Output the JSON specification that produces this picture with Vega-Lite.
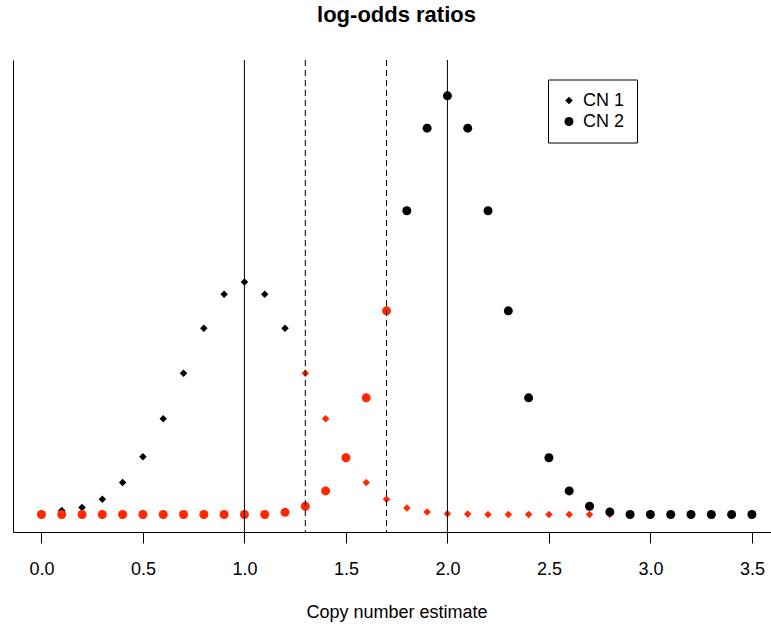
{
  "$schema": "https://vega.github.io/schema/vega-lite/v6.json",
  "width": 758,
  "height": 472,
  "autosize": {"type": "none"},
  "padding": {"left": 13, "top": 60, "right": 0, "bottom": 98},
  "background": "white",
  "config": {"view": {"stroke": null}, "font": "Liberation Sans"},
  "title": {
    "text": "log-odds ratios",
    "font": "Liberation Sans",
    "fontSize": 22,
    "fontWeight": "bold",
    "color": "black",
    "anchor": "middle",
    "frame": "group",
    "baseline": "alphabetic",
    "offset": 16,
    "dx": 4.5
  },
  "layer": [
    {
      "data": {
        "values": [
          {"estimate": 0.0, "copies": "CN 1", "value": 0.002},
          {"estimate": 0.1, "copies": "CN 1", "value": 0.009},
          {"estimate": 0.2, "copies": "CN 1", "value": 0.016},
          {"estimate": 0.3, "copies": "CN 1", "value": 0.035},
          {"estimate": 0.4, "copies": "CN 1", "value": 0.073},
          {"estimate": 0.5, "copies": "CN 1", "value": 0.132},
          {"estimate": 0.6, "copies": "CN 1", "value": 0.219},
          {"estimate": 0.7, "copies": "CN 1", "value": 0.323},
          {"estimate": 0.8, "copies": "CN 1", "value": 0.426},
          {"estimate": 0.9, "copies": "CN 1", "value": 0.504},
          {"estimate": 1.0, "copies": "CN 1", "value": 0.532},
          {"estimate": 1.1, "copies": "CN 1", "value": 0.504},
          {"estimate": 1.2, "copies": "CN 1", "value": 0.426},
          {"estimate": 1.3, "copies": "CN 1", "value": 0.323},
          {"estimate": 1.4, "copies": "CN 1", "value": 0.219},
          {"estimate": 1.5, "copies": "CN 1", "value": 0.132},
          {"estimate": 1.6, "copies": "CN 1", "value": 0.073},
          {"estimate": 1.7, "copies": "CN 1", "value": 0.035},
          {"estimate": 1.8, "copies": "CN 1", "value": 0.015},
          {"estimate": 1.9, "copies": "CN 1", "value": 0.006},
          {"estimate": 2.0, "copies": "CN 1", "value": 0.002},
          {"estimate": 2.1, "copies": "CN 1", "value": 0.001},
          {"estimate": 2.2, "copies": "CN 1", "value": 0.0},
          {"estimate": 2.3, "copies": "CN 1", "value": 0.0},
          {"estimate": 2.4, "copies": "CN 1", "value": 0.0},
          {"estimate": 2.5, "copies": "CN 1", "value": 0.0},
          {"estimate": 2.6, "copies": "CN 1", "value": 0.0},
          {"estimate": 2.7, "copies": "CN 1", "value": 0.0},
          {"estimate": 2.8, "copies": "CN 1", "value": 0.0},
          {"estimate": 2.9, "copies": "CN 1", "value": 0.0},
          {"estimate": 3.0, "copies": "CN 1", "value": 0.0},
          {"estimate": 3.1, "copies": "CN 1", "value": 0.0},
          {"estimate": 3.2, "copies": "CN 1", "value": 0.0},
          {"estimate": 3.3, "copies": "CN 1", "value": 0.0},
          {"estimate": 3.4, "copies": "CN 1", "value": 0.0},
          {"estimate": 3.5, "copies": "CN 1", "value": 0.0},
          {"estimate": 0.0, "copies": "CN 2", "value": 0.0},
          {"estimate": 0.1, "copies": "CN 2", "value": 0.0},
          {"estimate": 0.2, "copies": "CN 2", "value": 0.0},
          {"estimate": 0.3, "copies": "CN 2", "value": 0.0},
          {"estimate": 0.4, "copies": "CN 2", "value": 0.0},
          {"estimate": 0.5, "copies": "CN 2", "value": 0.0},
          {"estimate": 0.6, "copies": "CN 2", "value": 0.0},
          {"estimate": 0.7, "copies": "CN 2", "value": 0.0},
          {"estimate": 0.8, "copies": "CN 2", "value": 0.0},
          {"estimate": 0.9, "copies": "CN 2", "value": 0.0},
          {"estimate": 1.0, "copies": "CN 2", "value": 0.0},
          {"estimate": 1.1, "copies": "CN 2", "value": 0.0},
          {"estimate": 1.2, "copies": "CN 2", "value": 0.005},
          {"estimate": 1.3, "copies": "CN 2", "value": 0.019},
          {"estimate": 1.4, "copies": "CN 2", "value": 0.054},
          {"estimate": 1.5, "copies": "CN 2", "value": 0.130},
          {"estimate": 1.6, "copies": "CN 2", "value": 0.267},
          {"estimate": 1.7, "copies": "CN 2", "value": 0.466},
          {"estimate": 1.8, "copies": "CN 2", "value": 0.695},
          {"estimate": 1.9, "copies": "CN 2", "value": 0.884},
          {"estimate": 2.0, "copies": "CN 2", "value": 0.958},
          {"estimate": 2.1, "copies": "CN 2", "value": 0.884},
          {"estimate": 2.2, "copies": "CN 2", "value": 0.695},
          {"estimate": 2.3, "copies": "CN 2", "value": 0.466},
          {"estimate": 2.4, "copies": "CN 2", "value": 0.267},
          {"estimate": 2.5, "copies": "CN 2", "value": 0.130},
          {"estimate": 2.6, "copies": "CN 2", "value": 0.054},
          {"estimate": 2.7, "copies": "CN 2", "value": 0.019},
          {"estimate": 2.8, "copies": "CN 2", "value": 0.006},
          {"estimate": 2.9, "copies": "CN 2", "value": 0.0},
          {"estimate": 3.0, "copies": "CN 2", "value": 0.0},
          {"estimate": 3.1, "copies": "CN 2", "value": 0.0},
          {"estimate": 3.2, "copies": "CN 2", "value": 0.0},
          {"estimate": 3.3, "copies": "CN 2", "value": 0.0},
          {"estimate": 3.4, "copies": "CN 2", "value": 0.0},
          {"estimate": 3.5, "copies": "CN 2", "value": 0.0}
        ]
      },
      "mark": {"type": "point", "filled": true, "opacity": 1, "strokeWidth": 0},
      "encoding": {
        "x": {
          "field": "estimate",
          "type": "quantitative",
          "scale": {"domain": [-0.14, 3.594], "nice": false, "zero": false},
          "axis": {
            "values": [0, 0.5, 1, 1.5, 2, 2.5, 3, 3.5],
            "format": ".1f",
            "grid": false,
            "domain": true,
            "domainColor": "black",
            "ticks": true,
            "tickColor": "black",
            "tickSize": 11,
            "labelFont": "Liberation Sans",
            "labelFontSize": 18,
            "labelColor": "black",
            "labelPadding": 31,
            "labelBaseline": "alphabetic",
            "labelFlush": false,
            "labelOverlap": false,
            "title": "Copy number estimate",
            "titleFont": "Liberation Sans",
            "titleFontSize": 18,
            "titleFontWeight": "normal",
            "titleColor": "black",
            "titleX": 383.5,
            "titleY": 85,
            "titleBaseline": "alphabetic",
            "titleAnchor": "middle"
          }
        },
        "y": {
          "field": "value",
          "type": "quantitative",
          "scale": {"domain": [-0.04, 1.04], "nice": false, "zero": false},
          "axis": {
            "grid": false,
            "domain": true,
            "domainColor": "black",
            "ticks": false,
            "labels": false,
            "title": null
          }
        },
        "shape": {
          "field": "copies",
          "type": "nominal",
          "scale": {"domain": ["CN 1", "CN 2"], "range": ["diamond", "circle"]},
          "legend": {
            "title": null,
            "orient": "none",
            "legendX": 535,
            "legendY": 19.5,
            "padding": 12,
            "strokeColor": "black",
            "fillColor": "white",
            "labelFont": "Liberation Sans",
            "labelFontSize": 18,
            "labelColor": "black",
            "labelOffset": 5,
            "rowPadding": 3,
            "symbolFillColor": "black",
            "symbolStrokeColor": "black",
            "symbolStrokeWidth": 0,
            "symbolOpacity": 1
          }
        },
        "size": {
          "field": "copies",
          "type": "nominal",
          "scale": {"domain": ["CN 1", "CN 2"], "range": [56, 81]},
          "legend": {
            "title": null,
            "orient": "none",
            "legendX": 535,
            "legendY": 19.5,
            "padding": 12,
            "strokeColor": "black",
            "fillColor": "white",
            "labelFont": "Liberation Sans",
            "labelFontSize": 18,
            "labelColor": "black",
            "labelOffset": 5,
            "rowPadding": 3,
            "symbolFillColor": "black",
            "symbolStrokeColor": "black",
            "symbolStrokeWidth": 0,
            "symbolOpacity": 1
          }
        },
        "color": {
          "condition": {
            "test": "(datum.copies === 'CN 1' && datum.estimate > 1.25) || (datum.copies === 'CN 2' && datum.estimate < 1.75)",
            "value": "#ff2800"
          },
          "value": "black"
        }
      }
    },
    {
      "data": {"values": [{"estimate": 1}, {"estimate": 2}]},
      "mark": {"type": "rule", "color": "black", "strokeWidth": 1},
      "encoding": {"x": {"field": "estimate", "type": "quantitative"}}
    },
    {
      "data": {"values": [{"estimate": 1.3}, {"estimate": 1.7}]},
      "mark": {"type": "rule", "color": "black", "strokeWidth": 1, "strokeDash": [6, 4]},
      "encoding": {"x": {"field": "estimate", "type": "quantitative"}}
    },
    {
      "mark": {"type": "rule", "color": "black", "strokeWidth": 1},
      "encoding": {"y": {"datum": 1.04}}
    }
  ]
}
